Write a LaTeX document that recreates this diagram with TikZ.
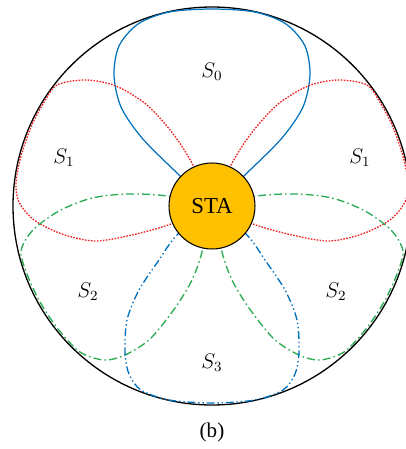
\documentclass[tikz,border=0pt]{standalone}
\usepackage{fontspec}
\setmainfont{Liberation Serif}
\definecolor{blu}{RGB}{0,114,189}
\definecolor{rosso}{RGB}{240,30,30}
\definecolor{verde}{RGB}{40,170,80}
\definecolor{arancio}{RGB}{255,192,0}

\begin{document}
\begin{tikzpicture}[scale=0.02,
    fascio0/.style={blu, line width=0.7pt},
    fascio1/.style={rosso, line width=0.75pt, dash pattern=on 0.9pt off 0.8pt},
    fascio2/.style={verde, line width=0.75pt, dash pattern=on 4.5pt off 1.8pt on 0.9pt off 1.8pt},
    fascio3/.style={blu, line width=0.75pt, dash pattern=on 4.5pt off 1.6pt on 0.8pt off 1.6pt on 0.8pt off 1.6pt},
    etich/.style={font=\fontsize{12}{14}\selectfont}]
    % parametri
    \def\R{199}

    % cornice
    \useasboundingbox (-212,-243) rectangle (194,206);

    % cerchio esterno
    \draw[line width=0.75pt] (0,0) circle (\R);

    % fascio S0
    \draw[fascio0] plot[smooth] coordinates {(0,0) (-35,33) (-70,68) (-91,99) (-98,131) (-93,160) (-74,182) (-43,194) (0,197) (43,194) (74,182) (93,160) (98,131) (91,99) (70,68) (35,33) (0,0)};

    % fasci S1 e S2 (sinistra e destra)
    \foreach \lato in {1,-1} {
        \begin{scope}[xscale=\lato]
            \draw[fascio1] plot[smooth] coordinates {(0,0) (-19,41) (-38,71) (-65,101) (-96,120) (-126,126) (-155,121) (-169,102) (-181,79) (-191,50) (-196,23) (-193,4) (-178,-14) (-150,-28) (-117,-35) (-80,-29) (-41,-18) (0,0)};
            \draw[fascio2] plot[smooth] coordinates {(0,0) (-45,10) (-84,12) (-120,8) (-153,-5) (-179,-24) (-191,-45) (-185,-68) (-172,-96) (-154,-123) (-132,-146) (-108,-154) (-87,-149) (-62,-133) (-37,-102) (-20,-74) (-10,-46) (0,0)};
        \end{scope}
    }

    % fascio S3
    \draw[fascio3] plot[smooth] coordinates {(0,0) (-35,-29) (-53,-54) (-73,-84) (-85,-114) (-87,-146) (-83,-168) (-71,-184) (-43,-194) (0,-197) (43,-194) (71,-184) (83,-168) (87,-146) (85,-114) (73,-84) (53,-54) (35,-29) (0,0)};

    % stazione
    \node[circle, draw, line width=0.6pt, fill=arancio, minimum size=17.2mm, inner sep=0pt,
          font=\fontsize{13}{15}\selectfont] (sta) at (0,0) {STA};

    % etichette
    \node[etich] (s0) at (0,134) {$S_0$};
    \node[etich] (s1sx) at (-148,48) {$S_1$};
    \node[etich] (s1dx) at (148,48) {$S_1$};
    \node[etich] (s2sx) at (-124,-86) {$S_2$};
    \node[etich] (s2dx) at (124,-86) {$S_2$};
    \node[etich] (s3) at (0,-157) {$S_3$};
    \node[etich] (didasc) at (0,-226) {(b)};
\end{tikzpicture}
\end{document}
